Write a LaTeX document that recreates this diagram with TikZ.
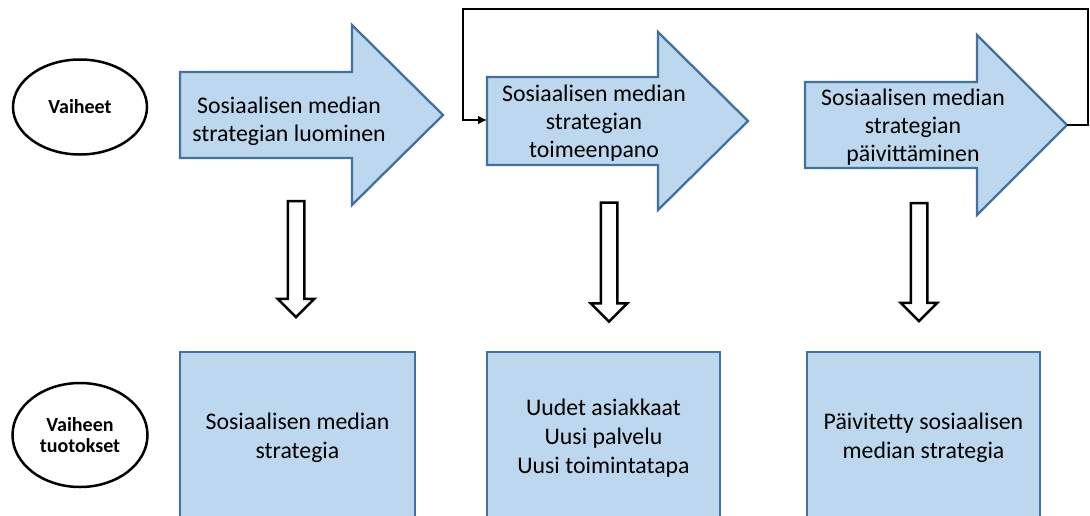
\documentclass[tikz,border=0pt]{standalone}
\usepackage{fontspec}
\setmainfont{Carlito}
\usetikzlibrary{arrows.meta,shapes.arrows,shapes.geometric,positioning}

\definecolor{phasefill}{HTML}{BDD7EE}
\definecolor{phaseline}{HTML}{41719C}

\begin{document}
\begin{tikzpicture}[x=1pt, y=-1pt,
	rowname/.style={ellipse, draw, line width=2.5pt, inner sep=0pt, align=center, font=\fontsize{20}{21}\selectfont\bfseries},
	phasearrow/.style={fill=phasefill, draw=phaseline, line width=2.3pt, line join=miter},
	phasetext/.style={align=center, font=\fontsize{23.8}{28}\selectfont},
	outbox/.style={rectangle, fill=phasefill, draw=phaseline, line width=2.3pt, minimum width=233pt, minimum height=172pt, align=center, font=\fontsize{23.8}{29}\selectfont},
	downarrow/.style={single arrow, shape border rotate=270, draw, line width=2.5pt, fill=white, inner sep=7pt, single arrow head extend=10pt},
	feedback/.style={line width=2.6pt, -{Latex[length=9pt,width=9pt]}}]
	\useasboundingbox (0,0) rectangle (1090,515);
	\clip (0,0) rectangle (1090,515);

	% row names
	\node [rowname, minimum width=134pt, minimum height=95pt]	(Vaiheet)	at (80,107)	{Vaiheet};
	\node [rowname, minimum width=135pt, minimum height=104pt]	(Tuotokset)	at (80,435)	{Vaiheen\\tuotokset};

	% phases
	\filldraw [phasearrow] (180,72) -- (352,72) -- (352,25) -- (443,115) -- (352,205) -- (352,158) -- (180,158) -- cycle;
	\filldraw [phasearrow] (487,77) -- (658,77) -- (658,32) -- (748,121) -- (658,210) -- (658,165) -- (487,165) -- cycle;
	\filldraw [phasearrow] (805,82) -- (977,82) -- (977,35) -- (1067,125) -- (977,215) -- (977,168) -- (805,168) -- cycle;
	\node [phasetext]	(Luominen)	at (289,121)	{Sosiaalisen median\\strategian luominen};
	\node [phasetext]	(Toimeenpano)	at (594,123)	{Sosiaalisen median\\strategian\\toimeenpano};
	\node [phasetext]	(Paivittaminen)	at (913,127)	{Sosiaalisen median\\strategian\\päivittäminen};
	\coordinate (tip3)	at (1067,125);
	\coordinate (in2)	at (487,120);
	\draw [feedback] (tip3) -- ++(21,0) |- (463,9) |- (in2);

	% outputs
	\node [downarrow, minimum height=116pt]	(down1)	at (296,255)	{};
	\node [downarrow, minimum height=119pt]	(down2)	at (609,258)	{};
	\node [downarrow, minimum height=118pt]	(down3)	at (919,258)	{};
	\node [outbox, minimum width=235pt]	(Strategia)	at (297.5,438)	{Sosiaalisen median\\strategia};
	\node [outbox]	(Uudet)	at (603.5,438)	{Uudet asiakkaat\\Uusi palvelu\\Uusi toimintatapa};
	\node [outbox]	(Paivitetty)	at (923.5,438)	{Päivitetty sosiaalisen\\median strategia};
\end{tikzpicture}
\end{document}
